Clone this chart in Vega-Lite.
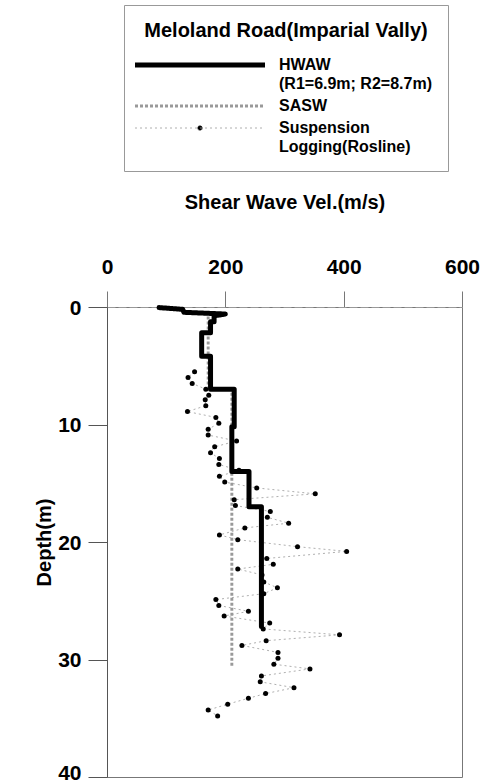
{
  "$schema": "https://vega.github.io/schema/vega-lite/v6.json",
  "width": 355,
  "height": 470,
  "autosize": {"type": "none"},
  "padding": {"left": 107, "top": 307, "right": 24, "bottom": 7},
  "background": "white",
  "config": {
    "view": {"stroke": "#777", "strokeWidth": 1},
    "font": "Liberation Sans"
  },
  "datasets": {
    "profiles": [
      {"series": "HWAW", "i": 1, "vel": 88, "depth": 0.05},
      {"series": "HWAW", "i": 2, "vel": 128, "depth": 0.2},
      {"series": "HWAW", "i": 3, "vel": 130, "depth": 0.45},
      {"series": "HWAW", "i": 4, "vel": 200, "depth": 0.6},
      {"series": "HWAW", "i": 5, "vel": 181, "depth": 0.75},
      {"series": "HWAW", "i": 6, "vel": 181, "depth": 1.25},
      {"series": "HWAW", "i": 7, "vel": 175, "depth": 1.25},
      {"series": "HWAW", "i": 8, "vel": 175, "depth": 2.2},
      {"series": "HWAW", "i": 9, "vel": 160, "depth": 2.2},
      {"series": "HWAW", "i": 10, "vel": 160, "depth": 4.2},
      {"series": "HWAW", "i": 11, "vel": 175, "depth": 4.2},
      {"series": "HWAW", "i": 12, "vel": 175, "depth": 7.0},
      {"series": "HWAW", "i": 13, "vel": 215, "depth": 7.0},
      {"series": "HWAW", "i": 14, "vel": 215, "depth": 10.2},
      {"series": "HWAW", "i": 15, "vel": 211, "depth": 10.2},
      {"series": "HWAW", "i": 16, "vel": 211, "depth": 14.0},
      {"series": "HWAW", "i": 17, "vel": 240, "depth": 14.0},
      {"series": "HWAW", "i": 18, "vel": 240, "depth": 17.0},
      {"series": "HWAW", "i": 19, "vel": 261, "depth": 17.0},
      {"series": "HWAW", "i": 20, "vel": 261, "depth": 27.2},
      {"series": "SASW", "i": 1, "vel": 171, "depth": 0.8},
      {"series": "SASW", "i": 2, "vel": 171, "depth": 7.0},
      {"series": "SASW", "i": 3, "vel": 211, "depth": 7.0},
      {"series": "SASW", "i": 4, "vel": 211, "depth": 30.6},
      {"series": "Suspension", "i": 1, "vel": 148, "depth": 5.5},
      {"series": "Suspension", "i": 2, "vel": 137, "depth": 6.0},
      {"series": "Suspension", "i": 3, "vel": 144, "depth": 6.5},
      {"series": "Suspension", "i": 4, "vel": 167, "depth": 7.0},
      {"series": "Suspension", "i": 5, "vel": 172, "depth": 7.5},
      {"series": "Suspension", "i": 6, "vel": 166, "depth": 7.9},
      {"series": "Suspension", "i": 7, "vel": 167, "depth": 8.4},
      {"series": "Suspension", "i": 8, "vel": 136, "depth": 8.9},
      {"series": "Suspension", "i": 9, "vel": 184, "depth": 9.4},
      {"series": "Suspension", "i": 10, "vel": 189, "depth": 9.9},
      {"series": "Suspension", "i": 11, "vel": 171, "depth": 10.4},
      {"series": "Suspension", "i": 12, "vel": 171, "depth": 10.9},
      {"series": "Suspension", "i": 13, "vel": 219, "depth": 11.4},
      {"series": "Suspension", "i": 14, "vel": 182, "depth": 11.9},
      {"series": "Suspension", "i": 15, "vel": 175, "depth": 12.4},
      {"series": "Suspension", "i": 16, "vel": 190, "depth": 12.9},
      {"series": "Suspension", "i": 17, "vel": 189, "depth": 13.4},
      {"series": "Suspension", "i": 18, "vel": 223, "depth": 13.9},
      {"series": "Suspension", "i": 19, "vel": 190, "depth": 14.4},
      {"series": "Suspension", "i": 20, "vel": 199, "depth": 14.9},
      {"series": "Suspension", "i": 21, "vel": 253, "depth": 15.4},
      {"series": "Suspension", "i": 22, "vel": 352, "depth": 15.9},
      {"series": "Suspension", "i": 23, "vel": 215, "depth": 16.4},
      {"series": "Suspension", "i": 24, "vel": 217, "depth": 16.9},
      {"series": "Suspension", "i": 25, "vel": 276, "depth": 17.4},
      {"series": "Suspension", "i": 26, "vel": 271, "depth": 17.9},
      {"series": "Suspension", "i": 27, "vel": 307, "depth": 18.4},
      {"series": "Suspension", "i": 28, "vel": 233, "depth": 18.8},
      {"series": "Suspension", "i": 29, "vel": 190, "depth": 19.4},
      {"series": "Suspension", "i": 30, "vel": 221, "depth": 19.8},
      {"series": "Suspension", "i": 31, "vel": 322, "depth": 20.4},
      {"series": "Suspension", "i": 32, "vel": 405, "depth": 20.8},
      {"series": "Suspension", "i": 33, "vel": 270, "depth": 21.4},
      {"series": "Suspension", "i": 34, "vel": 281, "depth": 21.9},
      {"series": "Suspension", "i": 35, "vel": 221, "depth": 22.3},
      {"series": "Suspension", "i": 36, "vel": 262, "depth": 22.8},
      {"series": "Suspension", "i": 37, "vel": 265, "depth": 23.4},
      {"series": "Suspension", "i": 38, "vel": 288, "depth": 23.9},
      {"series": "Suspension", "i": 39, "vel": 265, "depth": 24.4},
      {"series": "Suspension", "i": 40, "vel": 184, "depth": 24.9},
      {"series": "Suspension", "i": 41, "vel": 189, "depth": 25.4},
      {"series": "Suspension", "i": 42, "vel": 239, "depth": 25.9},
      {"series": "Suspension", "i": 43, "vel": 198, "depth": 26.3},
      {"series": "Suspension", "i": 44, "vel": 275, "depth": 26.9},
      {"series": "Suspension", "i": 45, "vel": 264, "depth": 27.4},
      {"series": "Suspension", "i": 46, "vel": 393, "depth": 27.9},
      {"series": "Suspension", "i": 47, "vel": 269, "depth": 28.4},
      {"series": "Suspension", "i": 48, "vel": 228, "depth": 28.8},
      {"series": "Suspension", "i": 49, "vel": 289, "depth": 29.4},
      {"series": "Suspension", "i": 50, "vel": 289, "depth": 29.9},
      {"series": "Suspension", "i": 51, "vel": 282, "depth": 30.4},
      {"series": "Suspension", "i": 52, "vel": 343, "depth": 30.8},
      {"series": "Suspension", "i": 53, "vel": 261, "depth": 31.4},
      {"series": "Suspension", "i": 54, "vel": 259, "depth": 31.9},
      {"series": "Suspension", "i": 55, "vel": 316, "depth": 32.4},
      {"series": "Suspension", "i": 56, "vel": 268, "depth": 32.9},
      {"series": "Suspension", "i": 57, "vel": 239, "depth": 33.3},
      {"series": "Suspension", "i": 58, "vel": 204, "depth": 33.8},
      {"series": "Suspension", "i": 59, "vel": 171, "depth": 34.3},
      {"series": "Suspension", "i": 60, "vel": 187, "depth": 34.8}
    ]
  },
  "data": {"name": "profiles"},
  "encoding": {
    "x": {
      "field": "vel", "type": "quantitative",
      "scale": {"domain": [0, 600], "nice": false},
      "axis": {
        "orient": "top", "values": [0, 200, 400, 600],
        "title": "Shear Wave Vel.(m/s)",
        "titleFont": "Liberation Sans", "titleFontSize": 20, "titleFontWeight": "bold", "titleColor": "#000",
        "titlePadding": 44,
        "labelFont": "Liberation Sans", "labelFontSize": 21, "labelFontWeight": "bold", "labelColor": "#000",
        "labelPadding": 14, "labelFlush": false,
        "tickSize": 16, "tickColor": "#777", "domainColor": "#999", "domainDash": [8, 3],
        "grid": false
      }
    },
    "y": {
      "field": "depth", "type": "quantitative",
      "scale": {"domain": [0, 40], "reverse": true, "nice": false},
      "axis": {
        "values": [0, 10, 20, 30, 40],
        "title": "Depth(m)",
        "titleFont": "Liberation Sans", "titleFontSize": 20, "titleFontWeight": "bold", "titleColor": "#000",
        "titlePadding": 3,
        "labelFont": "Liberation Sans", "labelFontSize": 21, "labelFontWeight": "bold", "labelColor": "#000",
        "labelPadding": 7, "labelFlush": false,
        "labelOffset": {"condition": {"test": "datum.value == 40", "value": -4}, "value": 1},
        "tickSize": 19, "tickColor": "#555", "domainColor": "#555",
        "grid": false
      }
    },
    "order": {"field": "i", "type": "quantitative"}
  },
  "layer": [
    {
      "transform": [{"filter": "datum.series != 'HWAW'"}],
      "mark": {"type": "line", "strokeCap": "butt", "strokeJoin": "miter"},
      "encoding": {
        "color": {
          "field": "series", "type": "nominal",
          "scale": {"domain": ["HWAW", "SASW", "Suspension"], "range": ["#000000", "#999999", "#9a9a9a"]},
          "legend": {
            "title": "Meloland Road(Imparial Vally)",
            "orient": "none", "legendX": 17, "legendY": -302,
            "titleFont": "Liberation Sans", "titleFontSize": 20, "titleFontWeight": "bold", "titleColor": "#000",
            "titleAnchor": "middle", "titlePadding": 16, "titleLimit": 400,
            "labelFont": "Liberation Sans", "labelFontSize": 16, "labelFontWeight": "bold", "labelColor": "#000",
            "labelExpr": "datum.label == 'HWAW' ? ['HWAW', '(R1=6.9m; R2=8.7m)'] : datum.label == 'Suspension' ? ['Suspension', 'Logging(Rosline)'] : datum.label",
            "labelLimit": 300, "labelOffset": 71,
            "strokeColor": "#999", "padding": 16,
            "symbolType": "M-13,0H13", "symbolSize": 100, "symbolOffset": 52,
            "rowPadding": 6,
            "encode": {
              "labels": {"update": {"lineHeight": {"value": 19}}},
              "symbols": {
                "update": {
                  "shape": {"signal": "datum.value == 'Suspension' ? 'M-13,0H13M0.5,0A0.5,0.5,0,1,1,-0.5,0A0.5,0.5,0,1,1,0.5,0' : 'M-13,0H13'"},
                  "fill": {"signal": "datum.value == 'Suspension' ? '#000' : 'transparent'"}
                }
              }
            }
          }
        },
        "strokeDash": {
          "field": "series", "type": "nominal",
          "scale": {"domain": ["HWAW", "SASW", "Suspension"], "range": [[1, 0], [3, 2], [2, 3]]},
          "legend": {"title": "Meloland Road(Imparial Vally)"}
        },
        "strokeWidth": {
          "field": "series", "type": "nominal",
          "scale": {"domain": ["HWAW", "SASW", "Suspension"], "range": [5, 0.8, 0.8]},
          "legend": {"title": "Meloland Road(Imparial Vally)"}
        }
      }
    },
    {
      "transform": [{"filter": "datum.series == 'Suspension'"}],
      "mark": {"type": "circle", "color": "#000", "size": 25, "opacity": 1}
    },
    {
      "transform": [{"filter": "datum.series == 'HWAW'"}],
      "mark": {"type": "line", "strokeCap": "round", "strokeJoin": "round"},
      "encoding": {
        "color": {"field": "series", "type": "nominal", "legend": {"title": "Meloland Road(Imparial Vally)"}},
        "strokeDash": {"field": "series", "type": "nominal", "legend": {"title": "Meloland Road(Imparial Vally)"}},
        "strokeWidth": {"field": "series", "type": "nominal", "legend": {"title": "Meloland Road(Imparial Vally)"}}
      }
    }
  ]
}
